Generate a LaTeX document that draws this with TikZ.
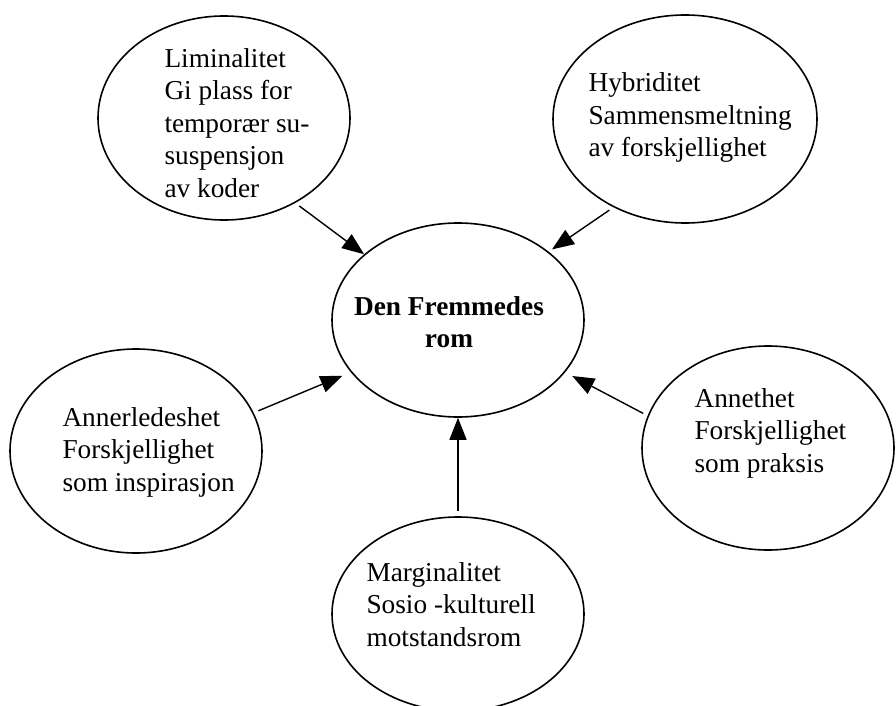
\documentclass[tikz,border=0pt]{standalone}
\usepackage{fontspec}
\setmainfont{Liberation Serif}
\usetikzlibrary{shapes.geometric,arrows.meta}

\begin{document}
\begin{tikzpicture}[x=1pt, y=-1pt,
    boble/.style={draw, ellipse, line width=1.6pt, minimum width=252pt, minimum height=204pt, inner sep=0pt},
    tekst/.style={anchor=base west, align=left, font=\fontsize{27.3}{32.5}\selectfont},
    pil/.style={line width=1.4pt, -{Triangle[length=22pt, width=17pt]}, shorten <=5pt}]
    \useasboundingbox (0,0) rectangle (896,706);

    % Ellipses
    \node[boble] (lim) at (224,118) {};
    \node[boble, minimum width=264pt, minimum height=208pt] (hyb) at (685,119) {};
    \node[boble, minimum height=194pt] (rom) at (458,320) {};
    \node[boble] (ann) at (136,451) {};
    \node[boble] (anh) at (768,448) {};
    \node[boble, minimum height=194pt] (mar) at (458,614) {};

    % Texts (placed at the baseline of their last line)
    \node[tekst] (limtxt) at (161,197) {Liminalitet\\Gi plass for\\temporær su-\\suspensjon\\av koder};
    \node[tekst] (hybtxt) at (585,157) {Hybriditet\\Sammensmeltning\\av forskjellighet};
    \node[tekst] (anntxt) at (59,491) {Annerledeshet\\Forskjellighet\\som inspirasjon};
    \node[tekst] (anhtxt) at (691,472) {Annethet\\Forskjellighet\\som praksis};
    \node[tekst] (martxt) at (363,646) {Marginalitet\\Sosio -kulturell\\motstandsrom};
    \node[tekst, anchor=base, align=center, font=\fontsize{27.3}{32}\selectfont\bfseries] (romtxt) at (449,347) {Den Fremmedes\\rom};

    % Arrows
    \foreach \fra/\til/\gap in {lim.-50/rom.145/0pt, hyb.231/rom.37/4pt, ann.18/rom.206/9pt, anh.165/rom.334/8pt, mar/rom/0pt} {
        \draw[pil, shorten >=\gap] (\fra) -- (\til);
    }
\end{tikzpicture}
\end{document}
